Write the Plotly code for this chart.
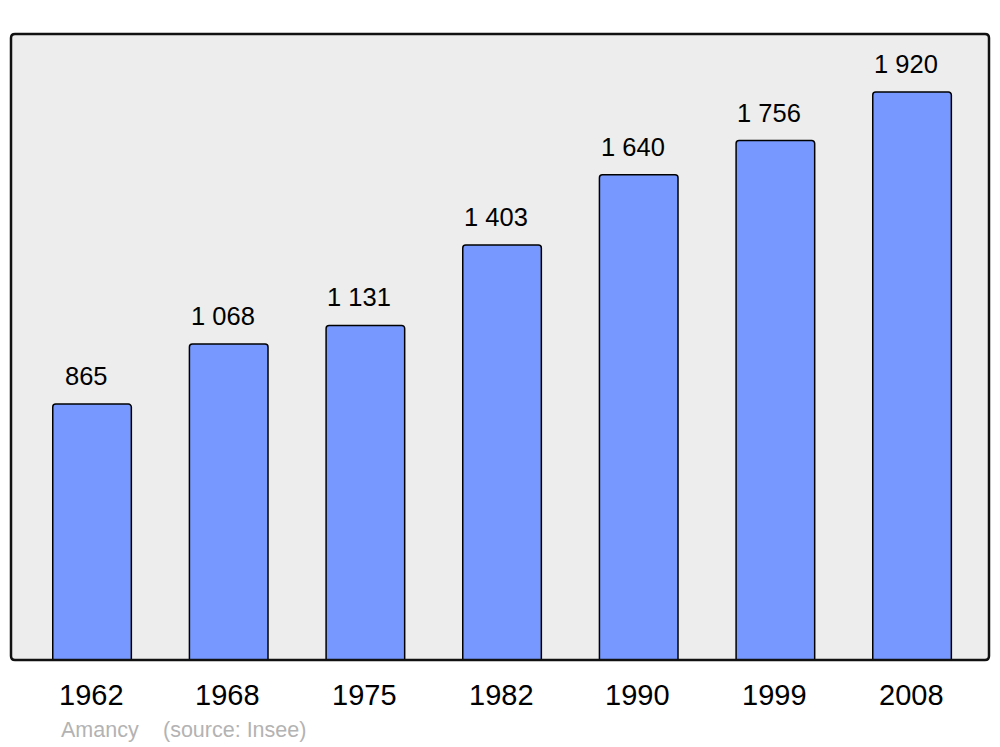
import plotly.graph_objects as go

years = ["1962", "1968", "1975", "1982", "1990", "1999", "2008"]
population = [865, 1068, 1131, 1403, 1640, 1756, 1920]
value_labels = ["865", "1 068", "1 131", "1 403", "1 640", "1 756", "1 920"]
commune = "Amancy"
source = "(source: Insee)"

W, H = 1000, 747
ml, mr, mt, mb = 11, 11, 34, 87
pw, ph = W - ml - mr, H - mt - mb

fig = go.Figure()
fig.add_trace(go.Bar(
    x=list(range(len(years))), y=population,
    width=0.575,
    marker=dict(color="#7799ff", line=dict(color="#000000", width=1.5), cornerradius=3),
    hoverinfo="skip",
))

ann = []
for i, (v, lab) in enumerate(zip(population, value_labels)):
    ann.append(dict(x=i, y=v, xref="x", yref="y", text=lab, showarrow=False,
                    yanchor="middle", yshift=28, xshift=-6,
                    font=dict(size=25.5, color="#000000", family="Liberation Sans, Arial")))
for i, yr in enumerate(years):
    ann.append(dict(x=i, y=0, xref="x", yref="y", text=yr, showarrow=False,
                    yanchor="middle", yshift=-35, xshift=-1,
                    font=dict(size=29, color="#000000", family="Liberation Sans, Arial")))
ann.append(dict(x=(59 - ml) / pw, y=0, xref="paper", yref="paper", text=commune,
                showarrow=False, xanchor="left", yanchor="middle", yshift=-70,
                font=dict(size=21.5, color="#b3b3b3", family="Liberation Sans, Arial")))
ann.append(dict(x=(161 - ml) / pw, y=0, xref="paper", yref="paper", text=source,
                showarrow=False, xanchor="left", yanchor="middle", yshift=-70,
                font=dict(size=21.5, color="#b3b3b3", family="Liberation Sans, Arial")))

rx, ry = 4 / pw, 4 / ph
path = (f"M {rx},0 L {1-rx},0 Q 1,0 1,{ry} L 1,{1-ry} Q 1,1 {1-rx},1 "
        f"L {rx},1 Q 0,1 0,{1-ry} L 0,{ry} Q 0,0 {rx},0 Z")

fig.update_layout(
    width=W, height=H,
    margin=dict(l=ml, r=mr, t=mt, b=mb, pad=0),
    paper_bgcolor="#ffffff", plot_bgcolor="#ededed",
    showlegend=False,
    xaxis=dict(range=[-0.593, 6.563], showgrid=False, zeroline=False,
               showticklabels=False, ticks="", fixedrange=True),
    yaxis=dict(range=[0, 2116], showgrid=False, zeroline=False,
               showticklabels=False, ticks="", fixedrange=True),
    annotations=ann,
    shapes=[dict(type="path", path=path, xref="paper", yref="paper",
                 line=dict(color="#111111", width=2.5), layer="above")],
)

fig.write_html("out.html", config={"displayModeBar": False})

with open("out.html", "r", encoding="utf-8") as f:
    html = f.read()
html = html.replace("<head>", "<head><style>html,body{margin:0;padding:0;overflow:hidden;}</style>", 1)
with open("out.html", "w", encoding="utf-8") as f:
    f.write(html)
